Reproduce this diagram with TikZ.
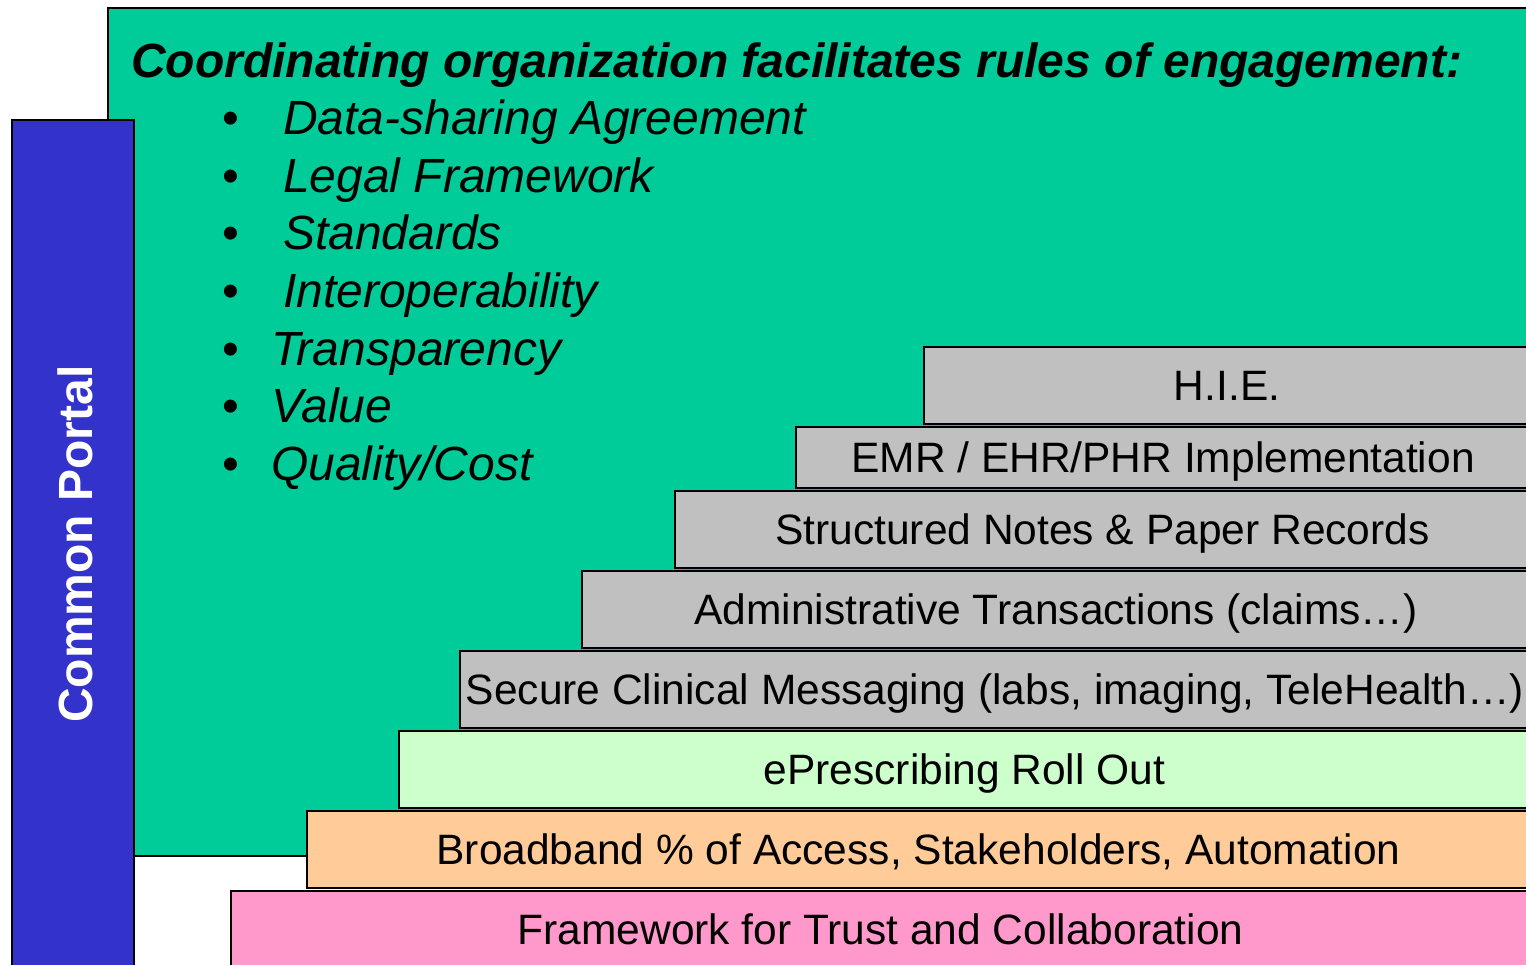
\documentclass[tikz,border=0pt]{standalone}
\usepackage{fontspec}
\setmainfont{Liberation Sans}
\definecolor{tealgreen}{HTML}{00CC99}
\definecolor{portalblue}{HTML}{3333CC}
\definecolor{stepgray}{HTML}{C0C0C0}
\definecolor{stepgreen}{HTML}{CCFFCC}
\definecolor{steporange}{HTML}{FFCC99}
\definecolor{steppink}{HTML}{FF99CC}
\tikzset{
  panel/.style={draw=black, line width=2.5pt, anchor=north west, inner sep=0pt, outer sep=0pt},
  stepbox/.style={panel, fill=stepgray, font=\fontsize{42.5}{50}\selectfont, text=black, text height=30.5pt, text depth=0pt},
  titletext/.style={anchor=base west, inner sep=0pt, font=\fontsize{48}{58}\selectfont\bfseries\itshape},
  itemtext/.style={anchor=base west, inner sep=0pt, font=\fontsize{48}{58}\selectfont\itshape},
  bullettext/.style={anchor=base west, inner sep=0pt, font=\fontsize{48}{58}\selectfont},
}
\begin{document}
\begin{tikzpicture}[x=1pt,y=-1pt]
\useasboundingbox (0,0) rectangle (1526,964);
\clip (0,0) rectangle (1526,964);
% main green panel
\node[panel, fill=tealgreen, minimum width=1440, minimum height=848] (coord) at (108,8) {};
% common portal bar
\node[panel, fill=portalblue, minimum width=122, minimum height=860] (portal) at (12,120) {};
\node[rotate=90, text=white, font=\fontsize{48}{56}\selectfont\bfseries, inner sep=0pt] (portaltext) at (75,544) {Common Portal};
% title and bullets
\node[titletext] (title) at (131,77) {Coordinating organization facilitates rules of engagement:};
\foreach \y/\x/\t [count=\i] in {134/283/Data-sharing Agreement, 192/283/Legal Framework, 249/283/Standards, 307/283/Interoperability, 365/271/Transparency, 422/271/Value, 480/271/Quality\slash Cost}{
  \node[bullettext] (b\i) at (222,\y) {•};
  \node[itemtext] (t\i) at (\x,\y) {\t};
}
% steps
\node[stepbox, minimum width=606, minimum height=77] (hie) at (924,347) {H.I.E.};
\node[stepbox, minimum width=734, minimum height=61] (emr) at (796,427) {EMR / EHR/PHR Implementation};
\node[stepbox, minimum width=855, minimum height=77] (notes) at (675,491) {Structured Notes \& Paper Records};
\node[stepbox, minimum width=948, minimum height=77] (admin) at (582,571) {Administrative Transactions (claims…)};
\node[stepbox, minimum width=1070, minimum height=77] (secure) at (460,651) {Secure Clinical Messaging (labs, imaging, TeleHealth…)};
\node[stepbox, fill=stepgreen, minimum width=1131, minimum height=77] (erx) at (399,731) {ePrescribing Roll Out};
\node[stepbox, fill=steporange, minimum width=1223, minimum height=77] (broad) at (307,811) {Broadband \% of Access, Stakeholders, Automation};
\node[stepbox, fill=steppink, minimum width=1299, minimum height=77] (trust) at (231,891) {Framework for Trust and Collaboration};
\end{tikzpicture}
\end{document}
